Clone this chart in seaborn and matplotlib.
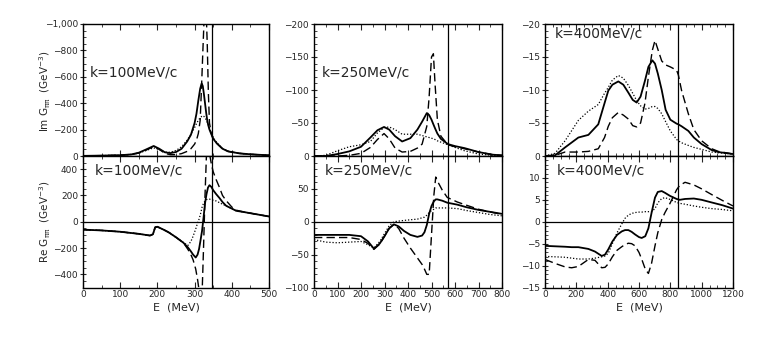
import numpy as np
import pandas as pd
import matplotlib
matplotlib.use("Agg")
import matplotlib.pyplot as plt
from matplotlib.ticker import MultipleLocator, FixedLocator, FixedFormatter
import seaborn as sns

# ---- k = 100 MeV/c ----
e_im1 = [0, 50, 100, 130, 150, 170, 190, 205, 220, 235, 250, 265, 280, 290, 300, 305, 310, 315,
         319, 322, 325, 328, 331, 334, 337, 340, 345, 350, 360, 375, 390, 420, 450, 500]
im1_solid = [-1, -3, -6, -12, -25, -50, -76, -55, -28, -22, -30, -55, -110, -160, -250, -320, -420, -510,
             -550, -530, -470, -400, -330, -270, -230, -200, -165, -130, -95, -55, -35, -20, -13, -5]
im1_dash = [-1, -3, -6, -12, -22, -45, -72, -50, -20, -10, -10, -18, -35, -55, -90, -120, -170, -270,
            -550, -780, -1000, -1100, -1100, -850, -480, -250, -170, -130, -95, -55, -35, -20, -13, -5]
im1_dot = [-1, -3, -6, -12, -22, -42, -62, -48, -30, -28, -42, -70, -120, -165, -215, -245, -270, -290,
           -300, -305, -300, -290, -275, -255, -235, -210, -175, -140, -100, -58, -36, -20, -13, -5]

e_re1 = [0, 50, 100, 150, 180, 188, 194, 200, 215, 230, 250, 270, 282, 290, 296, 303, 308, 312, 316,
         320, 324, 328, 332, 336, 340, 345, 350, 358, 367, 375, 385, 400, 412, 430, 448, 470, 500]
re1_solid = [-60, -66, -76, -92, -105, -95, -42, -38, -58, -80, -118, -160, -195, -225, -250, -272, -250, -207, -140,
             -70, 30, 140, 210, 260, 278, 265, 240, 210, 180, 150, 121, 100, 83, 75, 66, 55, 40]
re1_dash = [-60, -66, -76, -92, -105, -95, -42, -38, -58, -80, -118, -160, -210, -250, -290, -360, -440, -520, -600,
            -560, -200, 200, 520, 580, 520, 440, 380, 320, 260, 200, 160, 112, 88, 76, 66, 55, 40]
re1_dot = [-60, -66, -76, -92, -105, -95, -42, -38, -58, -80, -118, -158, -180, -150, -110, -55, -10, 20, 60,
           110, 140, 158, 168, 172, 172, 168, 164, 158, 145, 133, 121, 100, 83, 75, 66, 55, 40]

# ---- k = 250 MeV/c ----
e_im2 = [0, 50, 100, 150, 200, 240, 270, 298, 320, 345, 375, 410, 440, 460, 480, 490, 500, 508,
         515, 525, 540, 570, 600, 640, 700, 760, 800]
im2_solid = [0, 0, -3, -7, -14, -28, -39, -44, -40, -30, -22, -27, -40, -52, -65, -62, -55, -48,
             -42, -34, -26, -18, -15, -12, -6, -2, -1]
im2_dash = [0, 0, 0, -1, -4, -13, -25, -34, -26, -12, -6, -7, -12, -18, -45, -90, -150, -155,
            -110, -55, -30, -17, -14, -11, -6, -2, -1]
im2_dot = [0, -1, -8, -14, -17, -22, -35, -43, -44, -40, -33, -33, -33, -31, -29, -28, -27, -26,
           -25, -23, -21, -17, -13, -8, -3, -1, 0]

e_re2 = [0, 50, 100, 150, 200, 230, 255, 280, 300, 320, 340, 360, 383, 410, 440, 460, 470, 480, 490,
         500, 510, 518, 525, 546, 567, 610, 650, 700, 750, 800]
re2_solid = [-20, -20, -20, -20, -22, -30, -41, -33, -22, -10, -4, -7, -14, -20, -23, -21, -16, -5, 12,
             24, 31, 34, 34, 32, 29, 26, 22, 18, 15, 12]
re2_dash = [-24, -24, -24, -24, -27, -33, -42, -34, -22, -10, -4, -10, -25, -40, -55, -65, -72, -80, -80,
            -20, 40, 68, 62, 48, 37, 30, 25, 19, 15, 11]
re2_dot = [-27, -31, -32, -31, -30, -35, -40, -30, -18, -6, 0, 1, 2, 3, 4, 6, 7, 10, 14,
           17, 19, 21, 21, 21, 21, 20, 17, 14, 11, 9]

# ---- k = 400 MeV/c ----
e_im3 = [0, 64, 128, 213, 277, 340, 380, 404, 430, 468, 500, 532, 560, 585, 610, 638, 660, 685,
         702, 720, 745, 770, 800, 840, 851, 872, 915, 950, 1000, 1064, 1106, 1200]
im3_solid = [0, -0.1, -1.3, -2.8, -3.2, -4.8, -8, -9.9, -10.8, -11.3, -10.8, -9.6, -8.5, -8.1, -9, -11.4, -13.5, -14.5,
             -14, -12.5, -10, -7, -5.5, -4.9, -4.8, -4.5, -3.8, -2.8, -1.8, -0.9, -0.6, -0.3]
im3_dash = [0, -0.1, -0.6, -0.6, -0.7, -1.1, -2.8, -4.5, -5.8, -6.6, -6.2, -5.6, -4.6, -4.4, -5.0, -8, -12, -16,
            -17.5, -16.2, -14.4, -13.8, -13.5, -13, -12.3, -9.9, -6.4, -4, -2.3, -1.1, -0.7, -0.3]
im3_dot = [0, -0.4, -2.3, -5.4, -6.8, -7.8, -9.5, -10.4, -11.5, -12.2, -11.8, -10.7, -9.5, -8.4, -7.6, -7.1, -7.2, -7.5,
           -7.5, -7.2, -6.4, -5.2, -3.8, -2.5, -2.3, -2.0, -1.6, -1.3, -1.0, -0.6, -0.5, -0.3]

e_re3 = [0, 64, 128, 170, 213, 277, 319, 362, 383, 404, 430, 460, 490, 511, 532, 553, 575, 600, 617,
         640, 660, 680, 702, 720, 745, 766, 798, 840, 860, 894, 950, 1000, 1064, 1130, 1200]
re3_solid = [-5.5, -5.6, -5.7, -5.8, -5.8, -6.2, -6.8, -7.8, -7.5, -6.3, -4.5, -3, -2.2, -1.9, -1.9, -2.3, -2.9, -3.5, -3.7,
             -3.3, -1.5, 2, 5.5, 6.8, 7, 6.6, 5.9, 5.2, 5.0, 5.2, 5.3, 5.0, 4.4, 3.8, 3.0]
re3_dash = [-8.6, -9.5, -10.3, -10.5, -10.2, -8.6, -8.8, -10.5, -10.4, -9.6, -8, -6.5, -5.7, -5.2, -4.9, -5.0, -5.5, -7, -8.5,
            -10.8, -11.8, -9.5, -5.5, -2.5, 0.5, 2.1, 4.2, 7.3, 8.3, 9.0, 8.4, 7.5, 6.2, 4.9, 3.6]
re3_dot = [-7.9, -8.0, -8.1, -8.3, -8.5, -8.5, -8.3, -8.0, -7.8, -7.2, -5, -2.5, -0.5, 0.8, 1.5, 1.9, 2.1, 2.2, 2.2,
           2.3, 2.3, 2.3, 3.0, 4.3, 5.3, 5.5, 5.1, 4.4, 4.2, 4.0, 3.6, 3.3, 3.0, 2.8, 2.5]

k_labels = ["k=100MeV/c", "k=250MeV/c", "k=400MeV/c"]
thresholds = [346, 571, 847]
x_max = [500, 800, 1200]
x_major = [100, 100, 200]
im_lim = [-1000, -200, -20]
im_ticks = [[0, -200, -400, -600, -800, -1000], [0, -50, -100, -150, -200], [0, -5, -10, -15, -20]]
im_ticklabels = [["0", "−200", "−400", "−600", "−800", "−1,000"],
                 ["0", "−50", "−100", "−150", "−200"],
                 ["0", "−5", "−10", "−15", "−20"]]
re_lim = [500, 100, 15]
re_ticks = [[-400, -200, 0, 200, 400], [-100, -50, 0, 50], [-15, -10, -5, 0, 5, 10]]
re_ticklabels = [["−400", "−200", "0", "200", "400"], ["−100", "−50", "0", "50"],
                 ["−15", "−10", "−5", "0", "5", "10"]]
y_minor_im = [50, 10, 1]
y_minor_re = [50, 10, 1]

sns.set_style("ticks")
plt.rcParams['font.family'] = ['DejaVu Sans']
plt.rcParams['mathtext.default'] = 'regular'

fig = plt.figure(figsize=(7.74, 3.46), dpi=100)
lefts = [83 / 774, 314 / 774, 545 / 774]
widths = [186 / 774, 188 / 774, 188 / 774]
top_b, top_h = 1 - 156 / 346, 132 / 346
bot_b, bot_h = 1 - 287.5 / 346, 131.5 / 346

im_data = [(e_im1, im1_solid, im1_dash, im1_dot), (e_im2, im2_solid, im2_dash, im2_dot),
           (e_im3, im3_solid, im3_dash, im3_dot)]
re_data = [(e_re1, re1_solid, re1_dash, re1_dot), (e_re2, re2_solid, re2_dash, re2_dot),
           (e_re3, re3_solid, re3_dash, re3_dot)]

styles = [dict(linestyle='-', linewidth=1.3),
          dict(linestyle=(0, (6, 3)), linewidth=1.0),
          dict(linestyle=(0, (1, 1.5)), linewidth=0.9)]

text_pos_top = [(0.038, 0.636), (0.043, 0.636), (0.053, 0.93)]
text_pos_bot = [(0.065, 0.893), (0.059, 0.893), (0.064, 0.893)]


def style_axes(ax, col):
    ax.set_xlim(0, x_max[col])
    ax.xaxis.set_major_locator(MultipleLocator(x_major[col]))
    ax.xaxis.set_minor_locator(MultipleLocator(50))
    ax.tick_params(axis='x', which='major', direction='in', length=4, width=0.8, top=True,
                   labelsize=6.5, pad=2)
    ax.tick_params(axis='x', which='minor', direction='in', length=2, width=0.6, top=True)
    ax.tick_params(axis='y', which='major', direction='inout', length=5, width=0.8, labelsize=6.5, pad=1)
    ax.tick_params(axis='y', which='minor', direction='in', length=2, width=0.6)
    for s in ax.spines.values():
        s.set_linewidth(1.0)
        s.set_color('black')
    ax.axvline(thresholds[col], color='black', lw=0.9)
    ax.set_xlabel('')
    ax.set_ylabel('')


for col in range(3):
    ax_t = fig.add_axes([lefts[col], top_b, widths[col], top_h])
    ax_b = fig.add_axes([lefts[col], bot_b, widths[col], bot_h])

    e, s, d, o = im_data[col]
    for vals, st in zip([s, d, o], styles):
        sns.lineplot(x=e, y=vals, ax=ax_t, color='black', estimator=None, sort=False, **st)
    e, s, d, o = re_data[col]
    for vals, st in zip([s, d, o], styles):
        sns.lineplot(x=e, y=vals, ax=ax_b, color='black', estimator=None, sort=False, **st)

    style_axes(ax_t, col)
    style_axes(ax_b, col)

    ax_t.set_ylim(0, im_lim[col])
    ax_t.yaxis.set_major_locator(FixedLocator(im_ticks[col]))
    ax_t.yaxis.set_major_formatter(FixedFormatter(im_ticklabels[col]))
    ax_t.yaxis.set_minor_locator(MultipleLocator(y_minor_im[col]))
    ax_t.tick_params(axis='x', labelbottom=False)

    ax_b.set_ylim(-re_lim[col], re_lim[col])
    ax_b.yaxis.set_major_locator(FixedLocator(re_ticks[col]))
    ax_b.yaxis.set_major_formatter(FixedFormatter(re_ticklabels[col]))
    ax_b.yaxis.set_minor_locator(MultipleLocator(y_minor_re[col]))
    ax_b.axhline(0, color='black', lw=0.9)
    ax_b.set_xlabel('E  (MeV)', fontsize=8, labelpad=2)

    ax_t.text(*text_pos_top[col], k_labels[col], transform=ax_t.transAxes, fontsize=10,
              va='center', ha='left')
    ax_b.text(*text_pos_bot[col], k_labels[col], transform=ax_b.transAxes, fontsize=10,
              va='center', ha='left')

fig.text(45 / 774, 1 - 91 / 346, r'Im G$_{\pi\pi}$  (GeV$^{-3}$)', rotation=90,
         ha='center', va='center', fontsize=7.5)
fig.text(45 / 774, 1 - 222 / 346, r'Re G$_{\pi\pi}$  (GeV$^{-3}$)', rotation=90,
         ha='center', va='center', fontsize=7.5)

fig.savefig('out.png', dpi=100)
